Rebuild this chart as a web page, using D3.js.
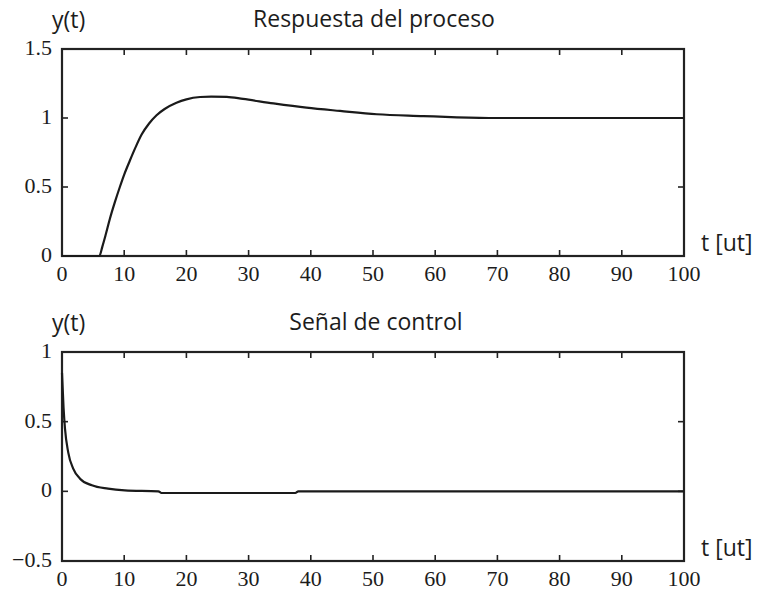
<!DOCTYPE html>
<html>
<head>
<meta charset="utf-8">
<script src="https://cdn.jsdelivr.net/npm/d3@7/dist/d3.min.js"></script>
<style>
  html, body { margin: 0; padding: 0; background: #fff; }
  svg { display: block; }
  .tick-label { font-family: "Liberation Serif", "DejaVu Serif", serif; font-size: 22px; fill: #1c1c1c; }
  .ann { font-family: "Open Sans", Lato, sans-serif; font-size: 23px; fill: #1c1c1c; }
</style>
</head>
<body>
<script>
// Process response y(t)
const respT = [0, 6, 6.5, 7, 7.7, 8.5, 9.3, 10, 10.9, 11.8, 12.8, 14, 15.2, 16.5, 18.4, 20, 22.2, 24, 26.5, 29.1, 34, 39.3, 44.7, 50.6, 58.1, 63.5, 70, 100];
const respY = [0, 0, 0.07, 0.15, 0.27, 0.39, 0.50, 0.59, 0.69, 0.785, 0.88, 0.96, 1.02, 1.065, 1.11, 1.135, 1.152, 1.155, 1.153, 1.138, 1.106, 1.075, 1.051, 1.027, 1.014, 1.005, 1.0, 1.0];

// Control signal u(t)
const ctrlT = [0, 0.25, 0.48, 1.0, 1.8, 2.9, 4.8, 7.4, 10.1, 15.5, 16, 37.5, 38, 100];
const ctrlY = [0.85, 0.6, 0.45, 0.28, 0.163, 0.091, 0.043, 0.019, 0.007, 0.0, -0.012, -0.012, 0, 0];

const xTicks = [0, 10, 20, 30, 40, 50, 60, 70, 80, 90, 100];
const respYTicks = [0, 0.5, 1, 1.5];
const ctrlYTicks = [-0.5, 0, 0.5, 1];

const titles = ["Respuesta del proceso", "Señal de control"];
const yLabel = "y(t)";
const xLabel = "t [ut]";

const W = 760, H = 595;
const svg = d3.select("body").append("svg").attr("width", W).attr("height", H);

const fmt = v => (v < 0 ? "\u2212" + Math.abs(v) : String(v));

function panel(cfg) {
  const { top, bottom, yDomain, yTicks, tVals, yVals, title, titleX } = cfg;
  const left = 62, right = 684;
  const x = d3.scaleLinear().domain([0, 100]).range([left, right]);
  const y = d3.scaleLinear().domain(yDomain).range([bottom, top]);
  const g = svg.append("g");
  const tickLen = 6;
  const inner = xTicks.filter(v => v > 0 && v < 100);
  const innerY = yTicks.filter(v => v > yDomain[0] && v < yDomain[1]);

  // inward ticks on all four sides
  const tk = g.append("g").attr("stroke", "#222").attr("stroke-width", 1.6);
  inner.forEach(v => {
    tk.append("line").attr("x1", x(v)).attr("x2", x(v)).attr("y1", bottom).attr("y2", bottom - tickLen);
    tk.append("line").attr("x1", x(v)).attr("x2", x(v)).attr("y1", top).attr("y2", top + tickLen);
  });
  innerY.forEach(v => {
    tk.append("line").attr("x1", left).attr("x2", left + tickLen).attr("y1", y(v)).attr("y2", y(v));
    tk.append("line").attr("x1", right).attr("x2", right - tickLen).attr("y1", y(v)).attr("y2", y(v));
  });

  // frame
  g.append("rect").attr("x", left).attr("y", top).attr("width", right - left).attr("height", bottom - top)
    .attr("fill", "none").attr("stroke", "#222").attr("stroke-width", 2.2);

  // tick labels
  g.selectAll(".xl").data(xTicks).enter().append("text").attr("class", "tick-label")
    .attr("x", d => x(d)).attr("y", bottom + 20).attr("text-anchor", "middle").attr("dominant-baseline", "middle")
    .text(d => fmt(d));
  g.selectAll(".yl").data(yTicks).enter().append("text").attr("class", "tick-label")
    .attr("x", left - 10).attr("y", d => y(d) + 1).attr("text-anchor", "end").attr("dominant-baseline", "middle")
    .text(d => fmt(d));

  // curve
  const line = d3.line().x(d => x(d[0])).y(d => y(d[1])).curve(d3.curveMonotoneX);
  g.append("path").datum(d3.zip(tVals, yVals)).attr("d", line)
    .attr("fill", "none").attr("stroke", "#1a1a1a").attr("stroke-width", 2.2).attr("stroke-linejoin", "round");

  // annotations
  g.append("text").attr("class", "ann").attr("x", 52).attr("y", top - 27).attr("dominant-baseline", "middle").text(yLabel);
  g.append("text").attr("class", "ann").attr("x", titleX).attr("y", top - 28).attr("text-anchor", "middle")
    .attr("dominant-baseline", "middle").text(title);
  g.append("text").attr("class", "ann").attr("x", 701).attr("y", bottom - 11).attr("dominant-baseline", "middle").text(xLabel);
}

panel({ top: 49, bottom: 256, yDomain: [0, 1.5], yTicks: respYTicks, tVals: respT, yVals: respY, title: titles[0], titleX: 374 });
panel({ top: 352, bottom: 561, yDomain: [-0.5, 1], yTicks: ctrlYTicks, tVals: ctrlT, yVals: ctrlY, title: titles[1], titleX: 376 });
</script>
</body>
</html>
